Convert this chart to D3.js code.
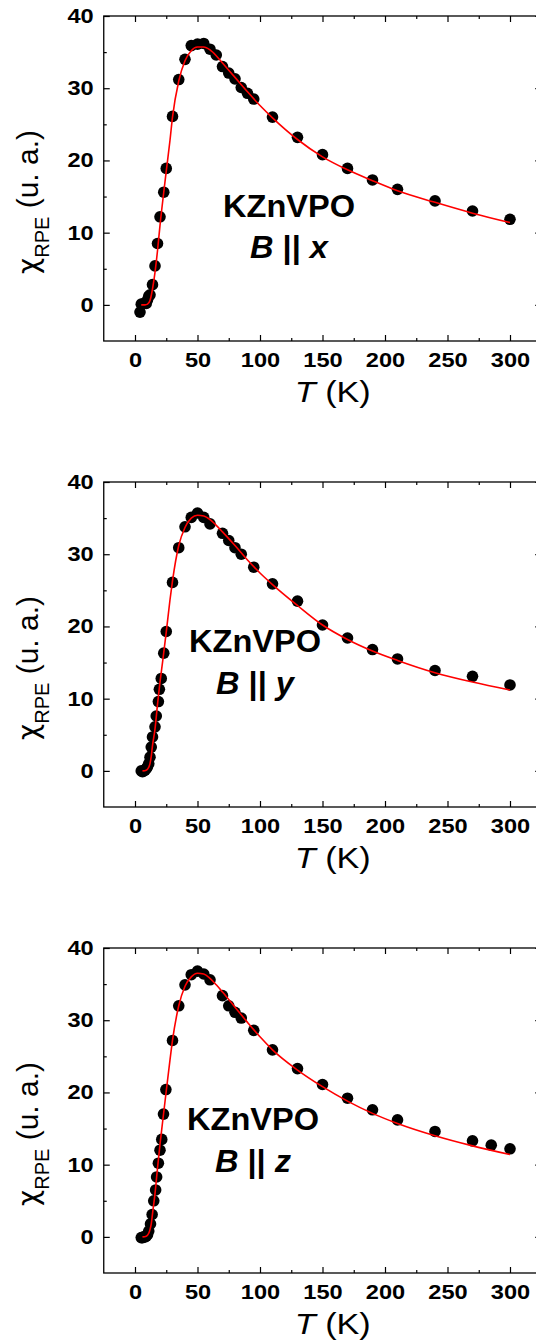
<!DOCTYPE html>
<html>
<head>
<meta charset="utf-8">
<script src="https://cdn.jsdelivr.net/npm/d3@7"></script>
<style>
  body { margin: 0; background: #fff; }
  text { font-family: "Liberation Sans", Arial, sans-serif; }
</style>
</head>
<body>
<svg id="chart"></svg>
<script>
// tick values
const xTicks = [0, 50, 100, 150, 200, 250, 300];
const xMinor = [25, 75, 125, 175, 225, 275];
const yTicks = [0, 10, 20, 30, 40];
const yMinor = [5, 15, 25, 35];

const sample = "KZnVPO";
const fieldDirs = ["x", "y", "z"];

// B || x : measured points
const T1 = [4, 5, 7, 9, 10, 11, 12, 14, 16, 18, 20, 23, 25, 30, 35, 40, 45, 50, 55, 60, 65, 70, 75, 80, 85, 90, 95, 110, 130, 150, 170, 190, 210, 240, 270, 300];
const chi1 = [-1.0, 0.1, 0.2, 0.2, 0.7, 1.2, 1.4, 2.8, 5.4, 8.5, 12.2, 15.6, 18.9, 26.1, 31.2, 34.0, 35.9, 36.1, 36.2, 35.4, 34.6, 33.0, 32.1, 31.3, 30.1, 29.3, 28.5, 26.0, 23.2, 20.8, 18.9, 17.3, 16.0, 14.4, 13.0, 11.85];
// B || x : fit
const fitT1 = [5, 8, 10, 12, 14, 16, 18, 20, 23, 25, 28, 30, 35, 40, 45, 50, 55, 60, 65, 70, 80, 90, 100, 110, 130, 150, 170, 190, 210, 240, 270, 300];
const fit1 = [0, 0, 0.1, 0.6, 2.2, 4.5, 7.5, 11, 15.6, 18.5, 22.8, 26, 31, 33.8, 35.2, 35.7, 35.7, 35.3, 34.5, 33.5, 31.5, 29.5, 27.6, 25.9, 22.9, 20.5, 18.7, 17.2, 15.8, 14.2, 12.7, 11.4];

// B || y
const T2 = [5, 6, 7, 8, 9, 10, 11, 12, 13, 14, 16, 17, 18.7, 19.5, 21, 23, 25, 30, 35, 40, 45, 50, 55, 60, 70, 75, 80, 85, 95, 110, 130, 150, 170, 190, 210, 240, 270, 300];
const chi2 = [0, -0.1, 0, 0.1, 0.3, 0.6, 1.0, 1.9, 3.3, 4.7, 6.1, 7.6, 9.6, 11.3, 12.8, 16.3, 19.3, 26.1, 30.9, 33.8, 35.1, 35.7, 35.1, 34.2, 32.9, 31.9, 30.9, 30.0, 28.2, 25.9, 23.5, 20.2, 18.4, 16.8, 15.5, 13.9, 13.1, 11.9];
const fitT2 = [6, 9, 11, 12, 13, 14, 16, 18, 20, 22, 25, 28, 30, 35, 40, 45, 50, 55, 60, 65, 70, 80, 90, 100, 110, 130, 150, 170, 190, 210, 240, 270, 300];
const fit2 = [0, 0.1, 0.5, 1.0, 2.0, 3.5, 5.8, 9.2, 12.3, 15, 19.2, 23.7, 26.3, 31.2, 33.7, 35.0, 35.4, 35.3, 34.8, 34.0, 33.1, 31.2, 29.2, 27.4, 25.8, 22.9, 20.2, 18.2, 16.6, 15.3, 13.6, 12.3, 11.2];

// B || z
const T3 = [5, 6, 7, 8, 9, 10, 11, 12.4, 13.7, 15, 16.5, 17.3, 18.7, 20, 21.4, 22.8, 24.7, 30, 35, 40, 45, 50, 55, 60, 70, 75, 80, 85, 95, 110, 130, 150, 170, 190, 210, 240, 270, 285, 300];
const chi3 = [-0.1, -0.1, 0, 0, 0.1, 0.3, 0.8, 1.8, 3.1, 5.0, 6.5, 8.3, 10.2, 12.0, 13.5, 17.0, 20.4, 27.2, 32.0, 34.9, 36.3, 36.8, 36.4, 35.6, 33.4, 32.0, 31.1, 30.3, 28.6, 25.9, 23.3, 21.1, 19.2, 17.6, 16.2, 14.6, 13.3, 12.7, 12.2];
const fitT3 = [6, 9, 11, 12, 13, 14, 16, 18, 20, 22, 25, 28, 30, 35, 40, 45, 50, 55, 60, 65, 70, 80, 90, 100, 110, 130, 150, 170, 190, 210, 240, 270, 300];
const fit3 = [0, 0.1, 0.5, 1.0, 1.8, 3.2, 6.0, 9.5, 12.8, 15.8, 20.2, 24.5, 27.2, 32.0, 34.7, 36.0, 36.5, 36.4, 35.8, 34.9, 33.9, 31.8, 29.7, 27.7, 25.9, 23.1, 20.8, 18.8, 17.1, 15.7, 14.0, 12.6, 11.4];

const panels = [
  {T: T1, chi: chi1, fitT: fitT1, fit: fit1},
  {T: T2, chi: chi2, fitT: fitT2, fit: fit2},
  {T: T3, chi: chi3, fitT: fitT3, fit: fit3}
];

const width = 536;
const height = 1344;
const svg = d3.select("#chart")
              .attr("width", width)
              .attr("height", height)
              .style("display", "block");

const left = 103.75;
const plotW = 437.5;
const plotH = 325;
const tops = [16, 482, 948];
const stretch = 1.18;   // the original's text is wide
// label positions (centre x, baselines) for each panel
const labelPos = [
  {cx: 289, b1: 201, b2: 242},
  {cx: 255, b1: 170, b2: 212},
  {cx: 253, b1: 182, b2: 224}
];

const x = d3.scaleLinear().domain([-25, 325]).range([0, plotW]);
const y = d3.scaleLinear().domain([-5, 40]).range([plotH, 0]);

const line = d3.line()
               .x(d => x(d[0]))
               .y(d => y(d[1]))
               .curve(d3.curveMonotoneX);

function styleAxis(g) {
  g.select(".domain").remove();
  g.selectAll(".tick line").attr("stroke", "#000").attr("stroke-width", 1.2);
  g.selectAll(".tick text")
   .attr("fill", "#000")
   .attr("transform", "scale(" + stretch + ",1)")
   .style("font-size", "20px")
   .style("font-weight", "bold")
   .style("font-family", "'Liberation Sans', Arial, sans-serif");
}

panels.forEach((p, k) => {
  const G = svg.append("g")
               .attr("transform", "translate(" + left + "," + tops[k] + ")");

  // major + minor ticks on all four sides, pointing inwards
  G.append("g").attr("transform", "translate(0," + plotH + ")")
   .call(d3.axisBottom(x).tickValues(xTicks).tickSize(-6).tickPadding(11.5).tickFormat(d3.format("d")))
   .call(styleAxis);
  G.append("g").attr("transform", "translate(0," + plotH + ")")
   .call(d3.axisBottom(x).tickValues(xMinor).tickSize(-3).tickFormat(""))
   .call(styleAxis);
  G.append("g")
   .call(d3.axisTop(x).tickValues(xTicks).tickSize(-6).tickFormat(""))
   .call(styleAxis);
  G.append("g")
   .call(d3.axisTop(x).tickValues(xMinor).tickSize(-3).tickFormat(""))
   .call(styleAxis);
  G.append("g")
   .call(d3.axisLeft(y).tickValues(yTicks).tickSize(-6).tickPadding(8.5))
   .call(styleAxis);
  G.append("g")
   .call(d3.axisLeft(y).tickValues(yMinor).tickSize(-3).tickFormat(""))
   .call(styleAxis);
  G.append("g").attr("transform", "translate(" + plotW + ",0)")
   .call(d3.axisRight(y).tickValues(yTicks).tickSize(-6).tickFormat(""))
   .call(styleAxis);
  G.append("g").attr("transform", "translate(" + plotW + ",0)")
   .call(d3.axisRight(y).tickValues(yMinor).tickSize(-3).tickFormat(""))
   .call(styleAxis);

  G.append("rect")
   .attr("width", plotW)
   .attr("height", plotH)
   .attr("fill", "none")
   .attr("stroke", "#000")
   .attr("stroke-width", 1.3);

  // data points
  G.append("g")
   .selectAll("circle")
   .data(p.T.map((t, i) => [t, p.chi[i]]))
   .enter()
   .append("circle")
   .attr("cx", d => x(d[0]))
   .attr("cy", d => y(d[1]))
   .attr("r", 5.8)
   .attr("fill", "#000");

  // fit
  G.append("path")
   .datum(p.fitT.map((t, i) => [t, p.fit[i]]))
   .attr("d", line)
   .attr("fill", "none")
   .attr("stroke", "#ff0000")
   .attr("stroke-width", 1.6);

  // axis titles
  const xt = G.append("g")
              .attr("transform", "translate(229," + (plotH + 61) + ") scale(" + stretch + ",1)")
              .append("text")
              .attr("text-anchor", "middle")
              .style("font-size", "29px");
  xt.append("tspan").style("font-style", "italic").text("T");
  xt.append("tspan").text(" (K)");

  const yt = G.append("text")
              .attr("transform", "translate(" + (38 - left) + ",186) rotate(-90)")
              .attr("text-anchor", "middle")
              .style("font-size", "30px");
  yt.append("tspan").style("font-family", "'DejaVu Sans', sans-serif").style("font-size", "28px").text("χ");
  yt.append("tspan").attr("dy", 11).style("font-size", "20px").text("RPE");
  yt.append("tspan").attr("dy", -11).text(" (u. a.)");

  // annotation
  const lp = labelPos[k];
  G.append("g")
   .attr("transform", "translate(" + (lp.cx - left) + "," + lp.b1 + ") scale(1.05,1)")
   .append("text")
   .attr("text-anchor", "middle")
   .style("font-size", "31px")
   .style("font-weight", "bold")
   .text(sample);
  const bt = G.append("g")
              .attr("transform", "translate(" + (lp.cx - left) + "," + lp.b2 + ") scale(1.05,1)")
              .append("text")
              .attr("text-anchor", "middle")
              .style("font-size", "31px")
              .style("font-weight", "bold");
  bt.append("tspan").style("font-style", "italic").text("B");
  bt.append("tspan").text(" || ");
  bt.append("tspan").style("font-style", "italic").text(fieldDirs[k]);
});
</script>
</body>
</html>
